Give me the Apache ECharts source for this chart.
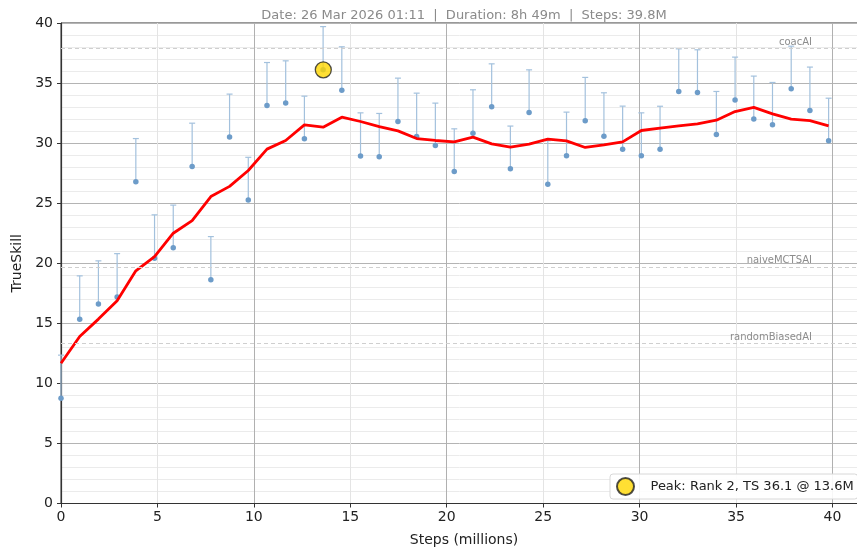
<!DOCTYPE html>
<html>
<head>
<meta charset="utf-8">
<script src="https://cdn.jsdelivr.net/npm/echarts@6/dist/echarts.min.js"></script>
<style>html,body{margin:0;padding:0;background:#fff;overflow:hidden;}#c{width:857px;height:552px;}</style>
</head>
<body>
<div id="c"></div>
<script>
// Steps (millions)
const steps = [0, 0.97, 1.94, 2.91, 3.88, 4.85, 5.82, 6.80, 7.77, 8.74, 9.71, 10.68, 11.65, 12.62, 13.59, 14.56, 15.53, 16.50, 17.47, 18.44, 19.41, 20.39, 21.36, 22.33, 23.30, 24.27, 25.24, 26.21, 27.18, 28.15, 29.12, 30.09, 31.06, 32.03, 33.00, 33.98, 34.95, 35.92, 36.89, 37.86, 38.83, 39.80];
// TrueSkill mu per checkpoint
const mu = [8.77, 15.34, 16.6, 17.2, 26.78, 20.42, 21.28, 28.05, 18.62, 30.5, 25.27, 33.13, 33.33, 30.36, 36.1, 34.41, 28.92, 28.86, 31.8, 30.55, 29.8, 27.64, 30.83, 33.02, 27.86, 32.55, 26.58, 28.94, 31.86, 30.58, 29.5, 28.94, 29.5, 34.3, 34.21, 30.72, 33.6, 32.0, 31.52, 34.52, 32.72, 30.19];
// upper error bar end
const upper = [12.35, 18.95, 20.2, 20.8, 30.38, 24.03, 24.84, 31.66, 22.22, 34.08, 28.82, 36.71, 36.85, 33.91, 39.7, 38.02, 32.52, 32.47, 35.41, 34.16, 33.33, 31.19, 34.44, 36.6, 31.42, 36.1, 30.2, 32.58, 35.47, 34.19, 33.08, 32.52, 33.07, 37.85, 37.77, 34.3, 37.16, 35.58, 35.05, 38.07, 36.33, 33.74];
// smoothed trend
const trend = [11.68, 13.9, 15.35, 16.87, 19.37, 20.56, 22.5, 23.55, 25.55, 26.4, 27.72, 29.5, 30.22, 31.52, 31.33, 32.16, 31.8, 31.38, 31.02, 30.38, 30.22, 30.11, 30.5, 29.94, 29.67, 29.92, 30.33, 30.19, 29.64, 29.86, 30.1, 31.05, 31.25, 31.44, 31.61, 31.91, 32.63, 32.97, 32.44, 32.0, 31.88, 31.44];
// reference bots
const refNames = ['coacAI', 'naiveMCTSAI', 'randomBiasedAI'];
const refValues = [37.9, 19.7, 13.3];
// peak
const peakStep = 13.6;
const peakValue = 36.1;
const peakLabel = 'Peak: Rank 2, TS 36.1 @ 13.6M';
const titleText = 'Date: 26 Mar 2026 01:11  |  Duration: 8h 49m  |  Steps: 39.8M';
const xTicks = [0, 5, 10, 15, 20, 25, 30, 35, 40];

const FONT = 'DejaVu Sans';
const chart = echarts.init(document.getElementById('c'), null, {renderer: 'canvas'});

const errData = steps.map((s, i) => [s, mu[i], upper[i]]);
const ptData = steps.map((s, i) => [s, mu[i]]);
const trendData = steps.map((s, i) => [s, trend[i]]);

chart.setOption({
  animation: false,
  backgroundColor: '#fff',
  textStyle: {fontFamily: FONT},
  title: {
    text: titleText, left: 459, top: 4, textAlign: 'center',
    textStyle: {fontFamily: FONT, fontSize: 13, fontWeight: 'normal', color: '#8a8a8a'}
  },
  grid: {left: 61, top: 23, width: 806, height: 480.5, show: true, borderColor: '#333', borderWidth: 1,
    containLabel: false, outerBoundsMode: 'none'},
  legend: {
    data: [peakLabel], left: 610, top: 474, orient: 'horizontal',
    backgroundColor: 'rgba(255,255,255,0.9)', borderColor: '#d8d8d8', borderWidth: 1, borderRadius: 3,
    padding: [3, 4, 3, 6], itemWidth: 24, itemHeight: 17,
    textStyle: {fontFamily: FONT, fontSize: 13, color: '#222', padding: [0, 0, 0, 8]}
  },
  xAxis: {
    type: 'value', min: 0, max: 41.79, interval: 5,
    name: 'Steps (millions)', nameLocation: 'middle', nameGap: 30,
    nameTextStyle: {fontFamily: FONT, fontSize: 14, color: '#222'},
    axisLine: {show: true, onZero: false, lineStyle: {color: '#333', width: 1.2}},
    axisTick: {show: true, length: 4, lineStyle: {color: '#333'}},
    axisLabel: {fontFamily: FONT, fontSize: 14, color: '#222', margin: 7,
      formatter: v => (xTicks.indexOf(v) >= 0 ? String(v) : '')},
    splitLine: {show: true, lineStyle: {color: ['#b0b0b0', '#e4e4e4'], width: 1}}
  },
  yAxis: {
    type: 'value', min: 0, max: 40, interval: 5,
    name: 'TrueSkill', nameLocation: 'middle', nameGap: 33, nameRotate: 90,
    nameTextStyle: {fontFamily: FONT, fontSize: 14, color: '#222'},
    axisLine: {show: true, lineStyle: {color: '#333', width: 1.2}},
    axisTick: {show: true, length: 4, lineStyle: {color: '#333'}},
    axisLabel: {fontFamily: FONT, fontSize: 14, color: '#222', margin: 8},
    splitLine: {show: true, lineStyle: {color: '#b4b4b4', width: 1}},
    minorTick: {show: false, splitNumber: 5},
    minorSplitLine: {show: true, lineStyle: {color: '#ebebeb', width: 1}}
  },
  series: [
    {
      type: 'line', name: 'refs', data: [], silent: true,
      markLine: {
        silent: true, symbol: 'none',
        lineStyle: {type: [4, 3], color: '#cfcfcf', width: 1},
        label: {show: true, position: 'insideEndTop', distance: [55, 1], formatter: '{b}',
          fontFamily: FONT, fontSize: 10, color: '#8c8c8c'},
        data: refNames.map((n, i) => ({name: n, yAxis: refValues[i]}))
      }
    },
    {
      type: 'custom', name: 'err', data: errData, z: 2, silent: true,
      encode: {x: 0, y: [1, 2]},
      renderItem: function (params, api) {
        const x = api.value(0);
        const p1 = api.coord([x, api.value(1)]);
        const p2 = api.coord([x, api.value(2)]);
        const st = {stroke: '#a3c1dd', lineWidth: 1.2};
        return {type: 'group', children: [
          {type: 'line', shape: {x1: p1[0], y1: p1[1], x2: p2[0], y2: p2[1]}, style: st},
          {type: 'line', shape: {x1: p2[0] - 3, y1: p2[1], x2: p2[0] + 3, y2: p2[1]}, style: st}
        ]};
      }
    },
    {
      type: 'scatter', name: 'mu', data: ptData, z: 3, symbolSize: 5.5,
      itemStyle: {color: '#6d9cc9', opacity: 1}
    },
    {
      type: 'line', name: 'trend', data: trendData, z: 4, showSymbol: false, symbol: 'none',
      lineStyle: {color: '#ff0000', width: 2.8}
    },
    {
      type: 'scatter', name: peakLabel, data: [[peakStep, peakValue]], z: 5, symbolSize: 16,
      itemStyle: {color: '#ffd700', borderColor: '#222', borderWidth: 1.3}
    }
  ]
});
</script>
</body>
</html>
